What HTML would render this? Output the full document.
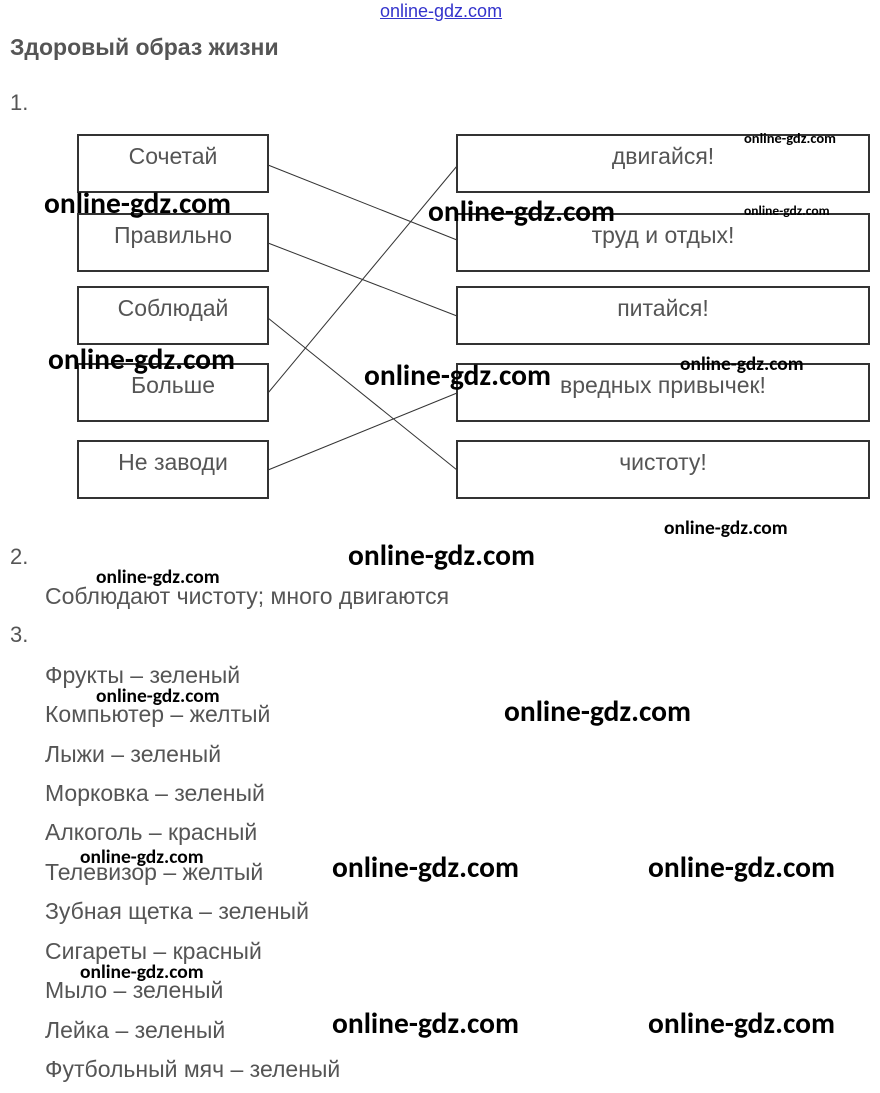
<!DOCTYPE html>
<html><head><meta charset="utf-8"><style>
body{margin:0;width:880px;height:1093px;background:#fff;position:relative;overflow:hidden;font-family:"Liberation Sans",Arial,sans-serif;color:#555}
.a{position:absolute;white-space:nowrap;line-height:1}
.box{position:absolute;border:2px solid #333;box-sizing:border-box;height:59px;font-size:23px;text-align:center;padding-top:7px;color:#555}
.L{left:77px;width:192px}.R{left:456px;width:414px}
.w{position:absolute;white-space:nowrap;line-height:1;font-family:"Carlito","Liberation Sans",sans-serif;color:#000;font-weight:bold;font-size:29.5px}
.li{position:absolute;left:45px;font-size:23px;line-height:1;color:#555}
</style></head><body>
<div class="a" style="left:380px;top:2px;font-size:18px;color:#33c;text-decoration:underline">online-gdz.com</div>
<div class="a" style="left:10px;top:36px;font-size:23px;font-weight:bold;color:#555">Здоровый образ жизни</div>
<div class="a" style="left:10px;top:92px;font-size:22px">1.</div>

<div class="box L" style="top:134px">Сочетай</div>
<div class="box L" style="top:213px">Правильно</div>
<div class="box L" style="top:286px">Соблюдай</div>
<div class="box L" style="top:363px">Больше</div>
<div class="box L" style="top:440px">Не заводи</div>
<div class="box R" style="top:134px">двигайся!</div>
<div class="box R" style="top:213px">труд и отдых!</div>
<div class="box R" style="top:286px">питайся!</div>
<div class="box R" style="top:363px">вредных привычек!</div>
<div class="box R" style="top:440px">чистоту!</div>

<svg style="position:absolute;left:0;top:0" width="880" height="1093">
<g stroke="#333" stroke-width="1">
<line x1="268" y1="165" x2="457" y2="240"/>
<line x1="268" y1="243" x2="457" y2="316"/>
<line x1="268" y1="318" x2="457" y2="470"/>
<line x1="268" y1="393" x2="457" y2="166"/>
<line x1="268" y1="470" x2="457" y2="393"/>
</g></svg>

<div class="a" style="left:10px;top:546px;font-size:22px">2.</div>
<div class="a" style="left:45px;top:585px;font-size:23px">Соблюдают чистоту; много двигаются</div>
<div class="a" style="left:10px;top:624px;font-size:22px">3.</div>
<div class="li" style="top:664px">Фрукты – зеленый</div>
<div class="li" style="top:703px">Компьютер – желтый</div>
<div class="li" style="top:743px">Лыжи – зеленый</div>
<div class="li" style="top:782px">Морковка – зеленый</div>
<div class="li" style="top:821px">Алкоголь – красный</div>
<div class="li" style="top:861px">Телевизор – желтый</div>
<div class="li" style="top:900px">Зубная щетка – зеленый</div>
<div class="li" style="top:940px">Сигареты – красный</div>
<div class="li" style="top:979px">Мыло – зеленый</div>
<div class="li" style="top:1019px">Лейка – зеленый</div>
<div class="li" style="top:1058px">Футбольный мяч – зеленый</div>

<div class="w" style="left:44px;top:189px">online-gdz.com</div>
<div class="w" style="left:428px;top:197px">online-gdz.com</div>
<div class="w" style="left:48px;top:345px">online-gdz.com</div>
<div class="w" style="left:364px;top:361px">online-gdz.com</div>
<div class="w" style="left:348px;top:541px">online-gdz.com</div>
<div class="w" style="left:504px;top:697px">online-gdz.com</div>
<div class="w" style="left:332px;top:853px">online-gdz.com</div>
<div class="w" style="left:648px;top:853px">online-gdz.com</div>
<div class="w" style="left:332px;top:1009px">online-gdz.com</div>
<div class="w" style="left:648px;top:1009px">online-gdz.com</div>
<div class="w" style="left:744px;top:131px;font-size:14.5px">online-gdz.com</div>
<div class="w" style="left:744px;top:204px;font-size:13.5px">online-gdz.com</div>
<div class="w" style="left:680px;top:355px;font-size:19.5px">online-gdz.com</div>
<div class="w" style="left:664px;top:519px;font-size:19.5px">online-gdz.com</div>
<div class="w" style="left:96px;top:568px;font-size:19.5px">online-gdz.com</div>
<div class="w" style="left:96px;top:687px;font-size:19.5px">online-gdz.com</div>
<div class="w" style="left:80px;top:848px;font-size:19.5px">online-gdz.com</div>
<div class="w" style="left:80px;top:963px;font-size:19.5px">online-gdz.com</div>
</body></html>
